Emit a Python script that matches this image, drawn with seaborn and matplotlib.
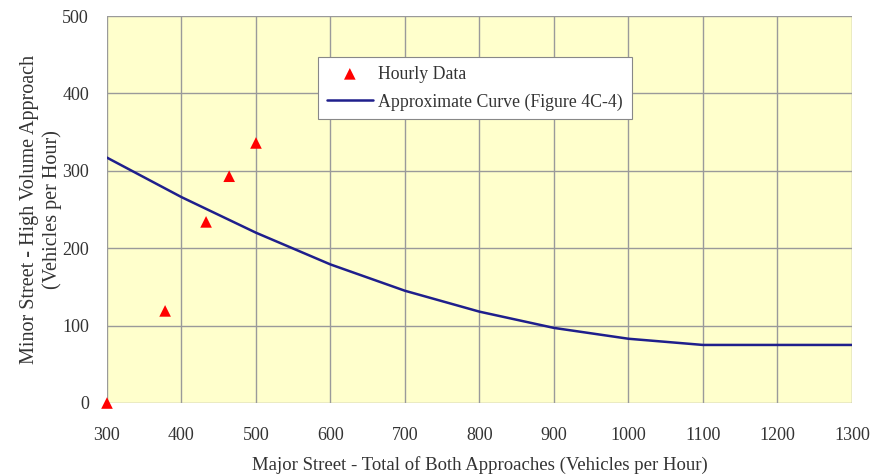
import matplotlib.pyplot as plt
import seaborn as sns
import pandas as pd

# hourly counts
hourly_major = [300, 378, 433, 464, 500]
hourly_minor = [0, 119, 234, 293, 336]

# approximate curve (Figure 4C-4)
curve_major = [300, 400, 500, 600, 700, 800, 900, 1000, 1100, 1200, 1300]
curve_minor = [317, 266, 220, 179, 145, 118, 97, 83, 75, 75, 75]

x_ticks = [300, 400, 500, 600, 700, 800, 900, 1000, 1100, 1200, 1300]
y_ticks = [0, 100, 200, 300, 400, 500]

sns.set_style('white')
plt.rcParams['font.family'] = ['Liberation Serif', 'DejaVu Serif']

df_pts = pd.DataFrame({'major': hourly_major, 'minor': hourly_minor})
df_curve = pd.DataFrame({'major': curve_major, 'minor': curve_minor})

fig = plt.figure(figsize=(8.72, 4.75), dpi=100)
ax = fig.add_axes([0.1227, 0.1516, 0.8543, 0.8147])
ax.set_facecolor('#FFFFCC')

sns.lineplot(data=df_curve, x='major', y='minor', color='#1F1F8C', linewidth=1.8,
             label='Approximate Curve (Figure 4C-4)', ax=ax, zorder=3)
sns.scatterplot(data=df_pts, x='major', y='minor', marker='^', color='#FF0000', s=70,
                edgecolor='none', label='Hourly Data', ax=ax, zorder=4, clip_on=False)

ax.set_xlim(300, 1300)
ax.set_ylim(0, 500)
ax.set_xticks(x_ticks)
ax.set_yticks(y_ticks)
ax.grid(True, color='#9A9A9A', linewidth=1)
ax.set_axisbelow(True)
for s in ax.spines.values():
    s.set_visible(False)
ax.tick_params(axis='both', length=6, color='#9A9A9A', labelsize=13, colors='#333333')
ax.tick_params(axis='x', pad=11)
ax.tick_params(axis='y', pad=7)

ax.set_xlabel('Major Street - Total of Both Approaches (Vehicles per Hour)',
              fontsize=13.5, color='#333333', labelpad=9)
ax.set_ylabel('Minor Street - High Volume Approach\n(Vehicles per Hour)',
              fontsize=14.5, color='#333333', labelpad=0, linespacing=1.2)

handles, labels = ax.get_legend_handles_labels()
order = [labels.index('Hourly Data'), labels.index('Approximate Curve (Figure 4C-4)')]
leg = ax.legend([handles[i] for i in order], [labels[i] for i in order],
                loc='upper left', bbox_to_anchor=(0.283, 0.895), fontsize=12.8,
                frameon=True, fancybox=False, framealpha=1, edgecolor='#888888',
                borderpad=0.5, labelspacing=0.6, handlelength=2.6, handletextpad=0.3,
                borderaxespad=0)
leg.get_frame().set_linewidth(0.8)
for t in leg.get_texts():
    t.set_color('#333333')

fig.savefig('out.png', dpi=100)
